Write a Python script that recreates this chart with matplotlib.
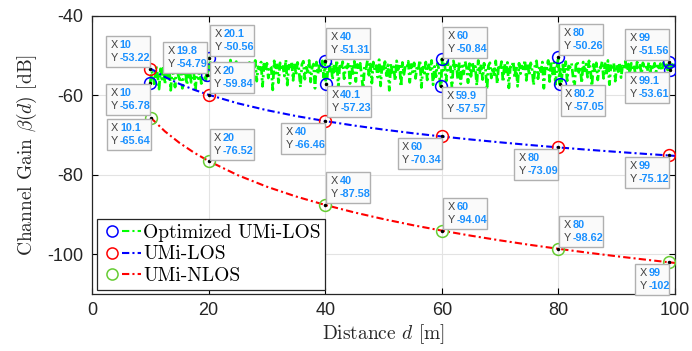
import numpy as np
import matplotlib
matplotlib.use("Agg")
import matplotlib.pyplot as plt
from matplotlib.lines import Line2D
from matplotlib.patches import Rectangle
from matplotlib.transforms import ScaledTranslation
from matplotlib.legend_handler import HandlerTuple

plt.rcParams['mathtext.fontset'] = 'cm'
plt.rcParams['axes.unicode_minus'] = False

# ---- data ----
# optimized UMi-LOS: noisy band, sampled every 0.25 m from 10 to 100 m
opt_d = np.round(np.arange(10, 100.001, 0.25), 2)
opt_gain = [
    -56.8, -53.9, -55.2, -57.6, -52.7, -54.8, -58.4, -53.3, -55.9, -52.5,
    -57.1, -54.0, -56.3, -52.9, -58.7, -53.6, -55.0, -57.9, -52.3, -54.6,
    -56.0, -53.1, -58.2, -54.4, -52.6, -57.3, -55.5, -53.0, -56.7, -52.1,
    -54.9, -58.5, -53.4, -55.8, -52.8, -57.0, -54.2, -53.5, -56.6, -52.4,
    -55.4, -51.6, -53.8, -57.2, -52.0, -54.5, -51.3, -56.1, -52.7, -53.2,
    -58.3, -51.8, -54.1, -52.4, -55.7, -51.1, -53.6, -57.5, -52.2, -51.5,
    -54.7, -52.9, -56.9, -51.4, -53.1, -52.0, -55.3, -58.0, -51.7, -53.9,
    -52.5, -54.3, -51.2, -56.4, -52.8, -53.4, -51.6, -57.7, -52.1, -54.0,
    -51.9, -55.6, -52.6, -53.0, -58.6, -51.3, -54.4, -52.3, -56.8, -51.8,
    -53.7, -52.7, -55.1, -51.0, -57.4, -52.4, -53.3, -51.5, -56.2, -52.0,
    -54.8, -51.7, -53.5, -57.9, -52.2, -51.4, -55.9, -52.9, -54.1, -51.2,
    -56.6, -53.0, -52.1, -58.2, -51.6, -54.6, -52.5, -53.8, -51.3, -55.5,
    -51.3, -57.2, -52.4, -53.9, -51.8, -56.0, -52.6, -54.3, -51.1, -58.1,
    -52.0, -53.4, -51.5, -55.8, -52.8, -53.1, -51.7, -57.0, -52.3, -54.5,
    -51.4, -56.5, -52.2, -53.7, -51.9, -55.2, -58.4, -52.7, -53.3, -51.2,
    -54.9, -52.1, -56.9, -51.6, -53.6, -52.5, -55.4, -51.0, -57.6, -52.4,
    -53.8, -51.5, -55.0, -52.3, -58.7, -51.9, -54.2, -52.8, -56.3, -51.3,
    -53.5, -52.0, -57.8, -51.7, -54.7, -52.6, -53.0, -51.4, -56.7, -52.2,
    -54.1, -51.8, -55.7, -52.5, -53.2, -51.1, -58.0, -52.9, -54.4, -51.6,
    -56.1, -52.3, -53.9, -51.2, -57.3, -52.7, -55.3, -51.9, -53.4, -57.6,
    -50.8, -53.7, -52.1, -56.4, -51.5, -54.0, -52.8, -58.3, -51.3, -53.3,
    -52.4, -55.9, -51.7, -57.1, -52.6, -54.6, -51.4, -53.0, -56.8, -52.0,
    -55.2, -51.6, -53.8, -52.7, -57.5, -51.2, -54.3, -52.2, -56.0, -51.9,
    -53.5, -58.5, -52.5, -51.8, -55.6, -52.9, -54.8, -51.3, -57.0, -52.3,
    -53.6, -51.5, -56.6, -52.0, -54.1, -51.7, -58.1, -52.8, -53.1, -51.4,
    -55.5, -52.4, -57.7, -51.9, -54.5, -52.6, -53.3, -51.1, -56.2, -52.2,
    -54.9, -51.8, -53.7, -57.4, -52.1, -51.3, -55.8, -52.7, -54.0, -51.6,
    -58.2, -52.5, -53.2, -51.2, -56.5, -52.0, -54.6, -51.7, -57.2, -52.9,
    -50.3, -53.4, -57.1, -52.3, -54.7, -51.5, -56.3, -52.6, -53.0, -51.9,
    -55.1, -58.0, -52.4, -51.4, -54.2, -52.8, -56.9, -51.6, -53.8, -52.1,
    -55.4, -51.3, -53.5, -57.6, -52.2, -54.3, -51.8, -56.1, -52.7, -53.1,
    -51.5, -55.7, -52.0, -54.8, -51.2, -57.3, -52.5, -53.6, -51.9, -56.4,
    -52.3, -54.0, -51.7, -55.5, -52.6, -53.2, -51.4, -56.7, -52.1, -54.4,
    -51.9, -53.7, -52.8, -55.0, -51.6, -53.3, -52.4, -54.6, -51.8, -53.0,
    -52.5, -53.9, -51.7, -54.2, -52.2, -53.5, -51.9, -54.0, -52.6, -53.1,
    -52.0, -53.8, -51.8, -52.9, -52.3, -53.6, -51.9, -53.2, -52.4, -51.6,
    -52.5,
]
opt_tip_d = [10, 19.8, 20.1, 40, 40.1, 59.9, 60, 80, 80.2, 99, 99.1]
opt_tip_gain = [-56.78, -54.79, -50.56, -51.31, -57.23, -57.57, -50.84,
                -50.26, -57.05, -51.56, -53.61]

los_d = [10, 12.5, 15, 17.5, 20, 25, 30, 35, 40, 45, 50, 55, 60, 65, 70,
         75, 80, 85, 90, 95, 99, 100]
los_gain = [-53.22, -55.35, -57.09, -58.57, -59.84, -61.98, -63.72, -65.19,
            -66.46, -67.59, -68.60, -69.51, -70.34, -71.10, -71.81, -72.47,
            -73.09, -73.67, -74.21, -74.73, -75.12, -75.22]
los_tip_d = [10, 20, 40, 60, 80, 99]
los_tip_gain = [-53.22, -59.84, -66.46, -70.34, -73.09, -75.12]

nlos_d = [10.1, 12.5, 15, 17.5, 20, 25, 30, 35, 40, 45, 50, 55, 60, 65, 70,
          75, 80, 85, 90, 95, 99, 100]
nlos_gain = [-65.64, -69.04, -71.94, -74.40, -76.52, -80.08, -82.99, -85.45,
             -87.58, -89.46, -91.14, -92.66, -94.04, -95.32, -96.50, -97.60,
             -98.62, -99.59, -100.50, -101.36, -102.02, -102.18]
nlos_tip_d = [10.1, 20, 40, 60, 80, 99]
nlos_tip_gain = [-65.64, -76.52, -87.58, -94.04, -98.62, -102]

labels = ['Optimized UMi-LOS', 'UMi-LOS', 'UMi-NLOS']

# where each data tip box sits relative to its point
opt_tip_side = ['ll', 'ul', 'ur', 'ur', 'lr', 'lr', 'ur', 'ur', 'lr', 'ul', 'll']
los_tip_side = ['ul', 'ur', 'll', 'll', 'll', 'll']
nlos_tip_side = ['ll', 'ur', 'ur', 'ur', 'ur', 'll']

# merge the tip points into the noisy series
keep = ~np.isin(opt_d, opt_tip_d)
od = np.concatenate([opt_d[keep], opt_tip_d])
og = np.concatenate([np.array(opt_gain)[keep], opt_tip_gain])
order = np.argsort(od, kind='stable')
od, og = od[order], og[order]

GREEN = (0, 1, 0)
MK_GREEN = '#66cc33'
DASH = (3.5, 1.5, 1, 1.5)

fig = plt.figure(figsize=(6.92, 3.51), dpi=100)
ax = fig.add_axes([92 / 692, 57 / 351, 583 / 692, 278 / 351])

ax.plot(od, og, color=GREEN, lw=2.0, ls='-.', dashes=(3, 1.2, 0.8, 1.2), zorder=2)
ax.plot(los_d, los_gain, color='b', lw=1.5, ls='-.', dashes=DASH, zorder=3)
ax.plot(nlos_d, nlos_gain, color='r', lw=1.5, ls='-.', dashes=DASH, zorder=3)

ax.plot(opt_tip_d, opt_tip_gain, ls='none', marker='o', ms=8.5, mfc='none',
        mec='b', mew=1.1, zorder=6)
ax.plot(los_tip_d, los_tip_gain, ls='none', marker='o', ms=8.5, mfc='none',
        mec='r', mew=1.1, zorder=6)
ax.plot(nlos_tip_d, nlos_tip_gain, ls='none', marker='o', ms=8.5, mfc='none',
        mec=MK_GREEN, mew=1.1, zorder=6)
for xs, ys in [(opt_tip_d, opt_tip_gain), (los_tip_d, los_tip_gain),
               (nlos_tip_d, nlos_tip_gain)]:
    ax.plot(xs, ys, ls='none', marker='o', ms=1.5, color='k', zorder=7)


def datatip(x, y, side):
    xs, ys = f"{x:g}", f"{y:g}"
    n = max(len(xs), len(ys))
    w = (14 + 5 * n) / 100
    h = 0.31
    x0 = 0.01 if side[1] == 'r' else -w - 0.003
    y0 = 0.015 if side[0] == 'u' else -h - 0.015
    tr = fig.dpi_scale_trans + ScaledTranslation(x, y, ax.transData)
    ax.add_patch(Rectangle((x0, y0), w, h, transform=tr, fc='#fafafa',
                           ec='#b0b0b0', lw=1.0, zorder=8, clip_on=False))
    for lab, val, fy in [('X', xs, 0.71), ('Y', ys, 0.29)]:
        ax.text(x0 + 0.045, y0 + h * fy, lab, transform=tr, fontsize=7.8,
                family='Liberation Sans', color='#404040', va='center',
                ha='left', zorder=9)
        ax.text(x0 + 0.135, y0 + h * fy, val, transform=tr, fontsize=7.8,
                family='Liberation Sans', color='#1a90ff', weight='bold',
                va='center', ha='left', zorder=9)


for xs, ys, ss in [(opt_tip_d, opt_tip_gain, opt_tip_side),
                   (los_tip_d, los_tip_gain, los_tip_side),
                   (nlos_tip_d, nlos_tip_gain, nlos_tip_side)]:
    for x, y, s in zip(xs, ys, ss):
        datatip(x, y, s)

ax.set_xlim(0, 100)
ax.set_ylim(-110, -40)
ax.set_xticks([0, 20, 40, 60, 80, 100])
ax.set_yticks([-100, -80, -60, -40])
ax.grid(True, color='#e3e3e3', lw=0.8)
ax.set_axisbelow(True)
ax.tick_params(direction='in', top=True, right=True, length=4, width=0.8,
               labelsize=13, pad=6)
for t in ax.get_xticklabels() + ax.get_yticklabels():
    t.set_family('Liberation Sans')
    t.set_color('#262626')
for sp in ax.spines.values():
    sp.set_linewidth(0.9)
    sp.set_color('#262626')

ax.set_xlabel(r'Distance $d$ [m]', family='cmr10', fontsize=14,
              color='#262626', labelpad=2)
ax.set_ylabel(r'Channel Gain $\beta(d)$ [dB]', family='cmr10', fontsize=14,
              color='#262626', labelpad=6)

handles = []
for mc, lc in [('b', GREEN), ('r', 'b'), (MK_GREEN, 'r')]:
    m = Line2D([], [], ls='none', marker='o', ms=8, mfc='none', mec=mc, mew=1.1)
    l = Line2D([], [], color=lc, lw=1.5, ls='-.', dashes=DASH)
    handles.append((m, l))
leg = ax.legend(handles, labels, handler_map={tuple: HandlerTuple(ndivide=None, pad=0)},
                loc='lower left', bbox_to_anchor=(0.009, 0.014), borderaxespad=0,
                prop={'family': 'cmr10', 'size': 14}, fancybox=False,
                edgecolor='#262626', framealpha=1, handlelength=2.0,
                handletextpad=0.1, labelspacing=0.2, borderpad=0.25)
leg.get_frame().set_linewidth(0.9)
leg.set_zorder(10)

fig.savefig('out.png', dpi=100)
